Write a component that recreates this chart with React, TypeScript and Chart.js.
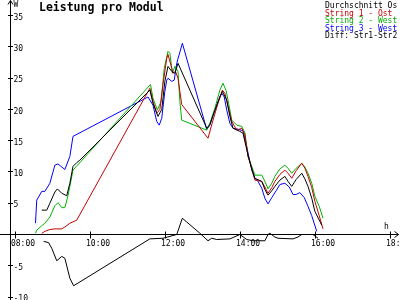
import React, { useEffect, useRef } from "react";
import { Chart, registerables } from "chart.js";

Chart.register(...registerables);

// ---------- data ----------
const chartTitle = "Leistung pro Modul";
const yUnit = "W";
const xUnit = "h";
const yTickValues = [-10, -5, 5, 10, 15, 20, 25, 30, 35];
const xTickLabels = ["08:00", "10:00", "12:00", "14:00", "16:00", "18:00"];
const legendLabels = ["Durchschnitt Os", "String 1 - Ost", "String 2 - West", "String 3 - West", "Diff: Str1-Str2"];

const avgTimes = ["08:42","08:50","08:55","09:03","09:07","09:14","09:22","09:27","09:32","09:38","09:43","11:35","11:40","11:48","11:54","11:59","12:04","12:10","12:15","12:20","13:06","13:11","13:19","13:27","13:31","13:38","13:43","13:48","13:59","14:04","14:12","14:18","14:23","14:34","14:39","14:44","14:50","14:55","15:03","15:11","15:16","15:22","15:29","15:38","15:43","15:48","15:54","15:59","16:10"];
const avgValues = [3.9,3.9,5.0,6.8,7.3,6.6,6.2,8.2,10.9,11.5,11.9,23.1,21.0,18.9,20.0,24.5,26.9,26.1,25.8,27.4,17.0,17.6,19.9,22.0,22.9,21.5,18.9,17.0,16.5,16.2,12.7,10.5,9.0,8.5,7.2,6.3,7.0,7.7,8.7,9.3,8.5,7.7,8.8,9.8,8.9,7.7,5.8,3.7,1.5];

const str1Times = ["08:42","08:47","08:55","09:03","09:14","09:19","09:27","09:38","11:35","11:40","11:46","11:51","11:56","12:02","12:04","12:10","12:12","12:16","12:20","12:26","13:08","13:16","13:24","13:31","13:35","13:40","13:46","13:54","14:02","14:07","14:12","14:18","14:23","14:34","14:39","14:44","14:50","14:55","15:03","15:11","15:16","15:22","15:29","15:38","15:43","15:48","15:54","15:59","16:06","16:12"];
const str1Values = [0.2,0.5,0.8,0.9,0.9,1.2,1.8,2.3,23.4,21.3,19.4,20.0,24.0,28.2,28.8,26.6,25.8,26.1,25.0,20.8,15.4,18.3,21.0,23.1,22.6,20.5,18.1,16.7,17.0,16.0,12.5,10.6,8.7,8.5,7.6,6.6,7.5,8.5,9.6,10.3,9.8,9.0,10.2,11.4,10.6,9.3,7.5,5.3,3.0,0.9];

const str2Times = ["08:32","08:34","08:42","08:47","08:55","09:03","09:08","09:14","09:19","09:23","09:27","09:32","11:36","11:40","11:47","11:53","11:58","12:04","12:07","12:11","12:15","12:20","12:23","12:26","13:06","13:11","13:19","13:27","13:32","13:37","13:40","13:46","13:54","14:02","14:07","14:12","14:18","14:23","14:34","14:39","14:44","14:50","14:55","15:03","15:11","15:16","15:22","15:29","15:38","15:43","15:48","15:54","15:59","16:06","16:12"];
const str2Values = [0.2,0.7,1.4,1.8,2.8,4.6,5.1,4.3,4.3,5.8,7.7,10.3,24.0,21.8,19.9,21.3,26.6,29.3,29.0,25.8,26.9,26.1,21.3,18.3,16.7,17.8,20.2,23.1,24.2,23.0,21.5,18.3,17.5,17.3,16.3,12.5,10.9,9.5,9.5,8.5,7.3,8.2,9.3,10.5,11.1,10.6,9.8,10.6,11.4,10.8,9.8,8.2,6.1,4.5,2.6];

const str3Times = ["08:32","08:34","08:42","08:47","08:55","09:03","09:08","09:19","09:27","09:32","11:32","11:40","11:46","11:50","11:54","11:59","12:02","12:04","12:10","12:14","12:18","12:27","13:06","13:11","13:19","13:27","13:30","13:34","13:38","13:43","13:48","13:54","14:04","14:10","14:18","14:23","14:28","14:34","14:39","14:44","14:50","14:57","15:03","15:11","15:18","15:24","15:29","15:35","15:42","15:48","15:54","16:02"];
const str3Values = [1.8,5.5,6.9,6.9,8.2,11.1,11.3,10.4,12.5,15.7,22.0,20.7,18.1,17.5,18.6,22.9,24.7,25.0,24.5,24.7,27.4,30.6,16.8,17.5,19.9,22.0,22.6,22.0,19.9,17.8,17.0,16.9,16.6,14.0,10.3,9.0,8.5,7.4,5.8,4.9,5.9,7.0,8.0,8.2,7.6,6.4,6.4,6.7,5.9,4.5,3.0,0.5];

const diffTimes = ["08:45","08:53","08:58","09:06","09:14","09:19","09:27","09:33","11:35","11:56","12:18","12:27","12:34","12:55","13:08","13:14","13:22","13:43","13:59","14:10","14:20","14:39","14:44","14:47","14:55","15:00","15:24","15:32","15:38","15:56","16:04"];
const diffValues = [-1.1,-1.3,-2.2,-4.2,-3.5,-3.8,-7.0,-8.2,-0.7,-0.6,0.0,2.6,2.0,0.2,-1.0,-0.6,-0.8,-0.7,0.0,-0.8,-1.0,-1.0,0.0,0.2,-0.4,-0.6,-0.7,-0.4,0.0,0.0,-0.6];

// ---------- styles / layout ----------
const seriesColors = ["#000000", "#c80000", "#00b000", "#0000ff", "#000000"];
const X_MIN = 7.587;
const X_MAX = 18.253;
const Y_MIN = -10.48;
const Y_MAX = 37.52;
const Y_AXIS_AT = 7.86;
const MONO = "'DejaVu Sans Mono', monospace";

const toHours = (t: string) => {
  const [h, m] = t.split(":").map(Number);
  return h + m / 60;
};
const toPoints = (times: string[], values: number[]) =>
  times.map((t, i) => ({ x: toHours(t), y: values[i] }));

const retroAxes = {
  id: "retroAxes",
  afterDatasetsDraw(chart: any) {
    const { ctx, scales } = chart;
    const xs = scales.x;
    const ys = scales.y;
    const W = chart.width;
    const H = chart.height;
    const ax = Math.floor(xs.getPixelForValue(Y_AXIS_AT)) + 0.5;
    const ay = Math.floor(ys.getPixelForValue(0)) + 0.5;
    ctx.save();
    ctx.strokeStyle = "#000";
    ctx.fillStyle = "#000";
    ctx.lineWidth = 1;
    ctx.beginPath();
    // y axis with arrow
    ctx.moveTo(ax, H);
    ctx.lineTo(ax, 0.5);
    ctx.moveTo(ax - 2.5, 4.5);
    ctx.lineTo(ax, 0.5);
    ctx.lineTo(ax + 2.5, 4.5);
    // x axis with arrow
    ctx.moveTo(0, ay);
    ctx.lineTo(W - 1.5, ay);
    ctx.moveTo(W - 5.5, ay - 3);
    ctx.lineTo(W - 1.5, ay);
    ctx.lineTo(W - 5.5, ay + 3);
    // y ticks
    yTickValues.forEach((v) => {
      const py = Math.floor(ys.getPixelForValue(v)) + 0.5;
      ctx.moveTo(ax - 2.5, py);
      ctx.lineTo(ax + 2.5, py);
    });
    // x ticks
    xTickLabels.forEach((lab) => {
      const px = Math.floor(xs.getPixelForValue(toHours(lab))) + 0.5;
      ctx.moveTo(px, ay - 3);
      ctx.lineTo(px, ay + 4);
    });
    ctx.stroke();

    ctx.font = `8px ${MONO}`;
    ctx.textBaseline = "alphabetic";
    ctx.textAlign = "left";
    yTickValues.forEach((v) => {
      const py = ys.getPixelForValue(v);
      ctx.fillText(String(v), ax + 3, py + 4);
    });
    xTickLabels.forEach((lab) => {
      const px = xs.getPixelForValue(toHours(lab));
      ctx.fillText(lab, px - 4.5, ay + 11);
    });
    ctx.fillText(yUnit, ax + 3, 7);
    ctx.fillText(xUnit, W - 16, ay - 6);

    // legend
    legendLabels.forEach((lab, i) => {
      ctx.fillStyle = seriesColors[i];
      ctx.fillText(lab, 325, 8 + i * 7.6);
    });

    // title
    ctx.fillStyle = "#000";
    ctx.font = `bold 11.5px ${MONO}`;
    ctx.fillText(chartTitle, 39, 10.5);
    ctx.restore();
  },
};

export default function App() {
  const ref = useRef<HTMLCanvasElement | null>(null);
  useEffect(() => {
    if (!ref.current) return;
    const seriesPoints = [
      toPoints(avgTimes, avgValues),
      toPoints(str1Times, str1Values),
      toPoints(str2Times, str2Values),
      toPoints(str3Times, str3Values),
      toPoints(diffTimes, diffValues),
    ];
    const chart = new Chart(ref.current, {
      type: "line",
      data: {
        datasets: seriesPoints.map((pts, i) => ({
          label: legendLabels[i],
          data: pts,
          borderColor: seriesColors[i],
          backgroundColor: seriesColors[i],
          borderWidth: 1,
          pointRadius: 0,
          tension: 0,
          fill: false,
        })),
      },
      options: {
        responsive: false,
        animation: false,
        maintainAspectRatio: false,
        layout: { padding: 0 },
        scales: {
          x: { type: "linear", min: X_MIN, max: X_MAX, display: false },
          y: { type: "linear", min: Y_MIN, max: Y_MAX, display: false },
        },
        plugins: {
          legend: { display: false },
          title: { display: false },
          tooltip: { enabled: false },
        },
      },
      plugins: [retroAxes],
    });
    return () => chart.destroy();
  }, []);
  return (
    <div style={{ position: "fixed", left: 0, top: 0, width: 400, height: 300, background: "#fff" }}>
      <canvas ref={ref} width={400} height={300} style={{ display: "block" }} />
    </div>
  );
}
